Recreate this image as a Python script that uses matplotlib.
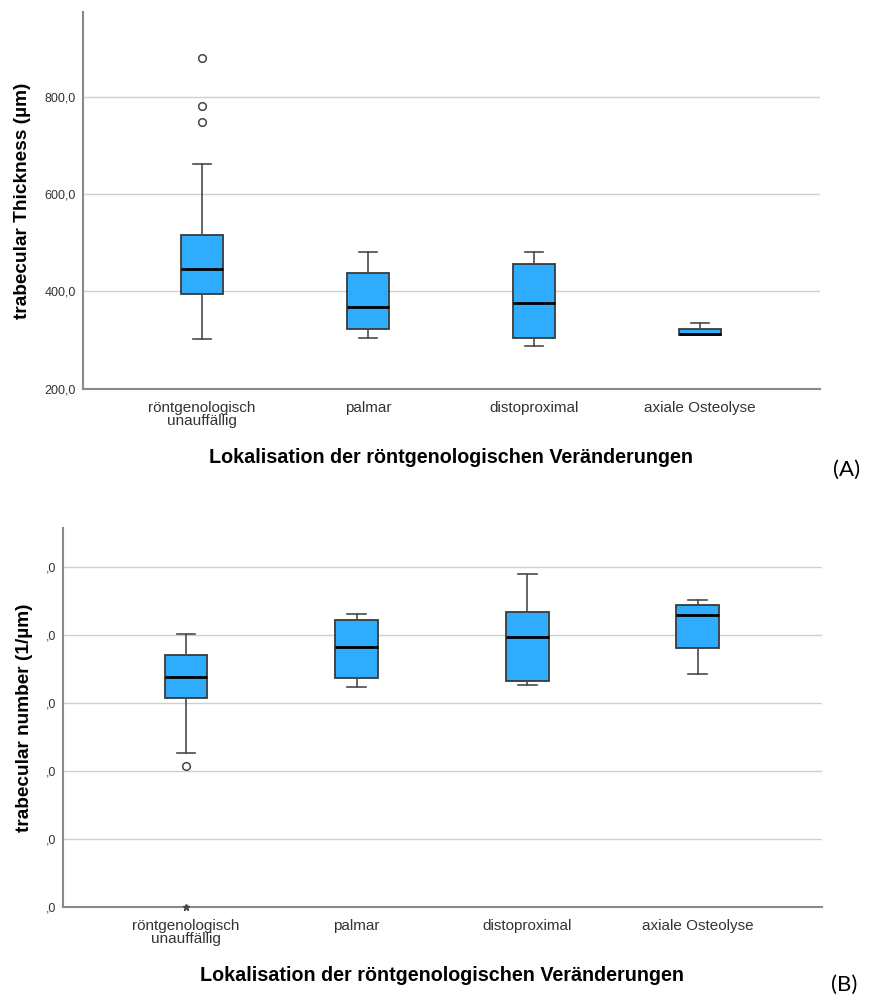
import matplotlib
matplotlib.use("Agg")
import matplotlib.pyplot as plt

plt.rcParams["font.family"] = ["Liberation Sans", "DejaVu Sans"]

categories = ["röntgenologisch\nunauffällig", "palmar", "distoproximal", "axiale Osteolyse"]

# (A) trabecular thickness (µm)
tb_whislo = [303, 304, 288, 310.5]
tb_q1 = [394, 322, 304, 310.5]
tb_med = [447, 367.5, 375.7, 313]
tb_q3 = [517, 437.5, 457, 323.5]
tb_whishi = [662, 481, 481, 334.6]
tb_fliers = [[880, 781, 748], [], [], []]
tb_ticks = [200, 400, 600, 800]
tb_ticklabels = ["200,0", "400,0", "600,0", "800,0"]

# (B) trabecular number (1/µm), scale units
tn_whislo = [2.27, 3.24, 3.27, 3.43]
tn_q1 = [3.08, 3.37, 3.33, 3.81]
tn_med = [3.39, 3.82, 3.98, 4.30]
tn_q3 = [3.71, 4.23, 4.34, 4.45]
tn_whishi = [4.02, 4.31, 4.90, 4.52]
tn_fliers = [[2.08], [], [], []]
tn_extremes = [[0.0], [], [], []]
tn_ticks = [0, 1, 2, 3, 4, 5]
tn_ticklabels = [",0", ",0", ",0", ",0", ",0", ",0"]

BOX = "#30acff"
EDGE = "#3a3a3a"
GRID = "#cfcfcf"
SPINE = "#8a8a8a"


def draw_panel(ax, lo, q1, med, q3, hi, fliers, ticks, ticklabels, ylim, xlim, ylabel, ylabel_x):
    stats = []
    for i in range(len(categories)):
        stats.append({"whislo": lo[i], "q1": q1[i], "med": med[i], "q3": q3[i],
                      "whishi": hi[i], "fliers": fliers[i]})
    pos = list(range(1, len(categories) + 1))
    ax.bxp(stats, positions=pos, widths=0.25, patch_artist=True, showfliers=True,
           boxprops=dict(facecolor=BOX, edgecolor=EDGE, linewidth=1.3),
           medianprops=dict(color="black", linewidth=2.0),
           whiskerprops=dict(color="#4a4a4a", linewidth=1.2),
           capprops=dict(color="#4a4a4a", linewidth=1.2),
           capwidths=0.11,
           flierprops=dict(marker="o", markerfacecolor="white", markeredgecolor="#444444",
                           markersize=5.5, markeredgewidth=1.1))
    ax.set_ylim(*ylim)
    ax.set_xlim(*xlim)
    ax.set_yticks(ticks, ticklabels)
    ax.set_xticks(pos, categories)
    ax.tick_params(axis="both", length=0)
    ax.tick_params(axis="y", labelsize=9, pad=5, colors="#333333")
    ax.tick_params(axis="x", labelsize=11, pad=9, colors="#333333")
    for lbl in ax.get_xticklabels():
        lbl.set_linespacing(0.9)
    ax.yaxis.grid(True, color=GRID, linewidth=1.0)
    ax.set_axisbelow(True)
    for side in ["top", "right"]:
        ax.spines[side].set_visible(False)
    for side in ["left", "bottom"]:
        ax.spines[side].set_color(SPINE)
        ax.spines[side].set_linewidth(1.5)
    ax.set_ylabel(ylabel, fontsize=13.7, fontweight="bold")
    ax.yaxis.set_label_coords(ylabel_x, 0.5)
    ax.set_xlabel("Lokalisation der röntgenologischen Veränderungen", fontsize=14.2,
                  fontweight="bold", labelpad=14)


fig = plt.figure(figsize=(8.7, 10), dpi=100)
ax1 = fig.add_axes([83 / 870, 1 - 388.7 / 1000, (820 - 83) / 870, (388.7 - 12) / 1000])
ax2 = fig.add_axes([63 / 870, 1 - 906.7 / 1000, (822 - 63) / 870, (906.7 - 528) / 1000])

draw_panel(ax1, tb_whislo, tb_q1, tb_med, tb_q3, tb_whishi, tb_fliers, tb_ticks, tb_ticklabels,
           (200, 975), (0.283, 4.723), "trabecular Thickness (µm)", -0.0706)
draw_panel(ax2, tn_whislo, tn_q1, tn_med, tn_q3, tn_whishi, tn_fliers, tn_ticks, tn_ticklabels,
           (0, 5.58), (0.279, 4.728), "trabecular number (1/µm)", -0.0395)

# extreme value marked with a star
for i, vals in enumerate(tn_extremes):
    if vals:
        ax2.plot([i + 1] * len(vals), vals, linestyle="none", marker="*", markersize=5,
                 color="#444444", clip_on=False, zorder=5)

fig.text(847 / 870, 1 - 470 / 1000, "(A)", fontsize=16, family=["Lato", "DejaVu Sans"],
         ha="center", va="center")
fig.text(844 / 870, 1 - 985 / 1000, "(B)", fontsize=16, family=["Lato", "DejaVu Sans"],
         ha="center", va="center")

fig.savefig("out.png", dpi=100, facecolor="white")
